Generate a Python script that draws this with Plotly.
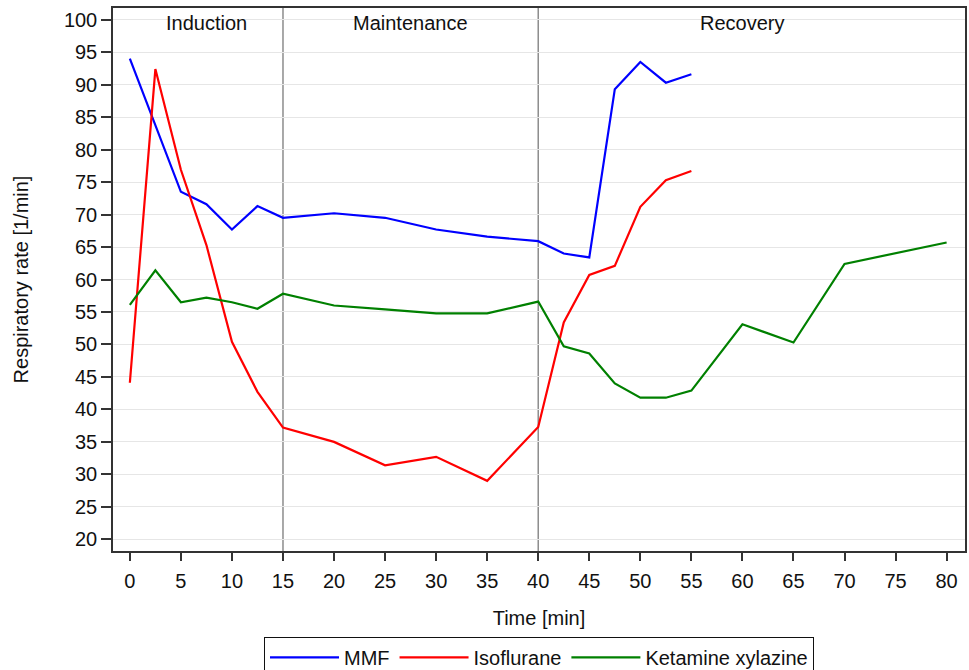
import plotly.graph_objects as go

# Data
mmf_t = [0, 2.5, 5, 7.5, 10, 12.5, 15, 20, 25, 30, 35, 40, 42.5, 45, 47.5, 50, 52.5, 55]
mmf_v = [94.0, 83.8, 73.5, 71.6, 67.7, 71.3, 69.5, 70.2, 69.5, 67.7, 66.6, 65.9, 64.0, 63.4, 89.3, 93.5, 90.3, 91.6]

iso_t = [0, 2.5, 5, 7.5, 10, 12.5, 15, 20, 25, 30, 35, 40, 42.5, 45, 47.5, 50, 52.5, 55]
iso_v = [44.1, 92.4, 76.9, 65.3, 50.4, 42.7, 37.2, 35.0, 31.4, 32.7, 29.0, 37.3, 53.4, 60.7, 62.1, 71.2, 75.3, 76.7]

ket_t = [0, 2.5, 5, 7.5, 10, 12.5, 15, 20, 25, 30, 35, 40, 42.5, 45, 47.5, 50, 52.5, 55, 60, 65, 70, 80]
ket_v = [56.1, 61.4, 56.5, 57.2, 56.5, 55.5, 57.8, 56.0, 55.4, 54.8, 54.8, 56.6, 49.7, 48.6, 44.0, 41.8, 41.8, 42.9, 53.1, 50.3, 62.4, 65.7]

phase_names = ["Induction", "Maintenance", "Recovery"]
phase_centers = [7.5, 27.5, 60]
phase_bounds = [15, 40]

x_ticks = list(range(0, 81, 5))
y_ticks = list(range(20, 101, 5))

FONT = "Liberation Sans, Arial, sans-serif"

fig = go.Figure()
fig.add_trace(go.Scatter(x=mmf_t, y=mmf_v, mode="lines", name="MMF",
                         line=dict(color="#0000ff", width=2.2)))
fig.add_trace(go.Scatter(x=iso_t, y=iso_v, mode="lines", name="Isoflurane",
                         line=dict(color="#ff0000", width=2.2)))
fig.add_trace(go.Scatter(x=ket_t, y=ket_v, mode="lines", name="Ketamine xylazine",
                         line=dict(color="#008000", width=2.2)))

for b in phase_bounds:
    fig.add_shape(type="line", x0=b, x1=b, y0=0, y1=1, xref="x", yref="paper",
                  line=dict(color="#8c8c8c", width=1.5), layer="below")

for name, c in zip(phase_names, phase_centers):
    fig.add_annotation(x=c, y=0.973, xref="x", yref="paper", text=name,
                       showarrow=False, yanchor="middle",
                       font=dict(size=20, color="#111", family=FONT))

fig.update_layout(
    width=969, height=670,
    margin=dict(l=113, r=4, t=8, b=119, autoexpand=False),
    paper_bgcolor="white", plot_bgcolor="white",
    font=dict(family=FONT, size=20, color="#111"),
    showlegend=True,
    legend=dict(orientation="h", x=0.5, xanchor="center", y=-0.158, yanchor="top",
                bordercolor="#111", borderwidth=1, font=dict(size=20, color="#111"),
                itemwidth=69),
    xaxis=dict(range=[-1.65, 81.8], tickvals=x_ticks, ticks="outside", ticklen=8,
               tickwidth=1.5, tickcolor="#333", showgrid=False, zeroline=False,
               showline=True, linecolor="#333", linewidth=1.5, mirror=True,
               tickfont=dict(size=20), ticklabelstandoff=3,
               title=dict(text="Time [min]", standoff=20, font=dict(size=20))),
    yaxis=dict(range=[18.2, 101.8], tickvals=y_ticks, ticks="outside", ticklen=10,
               tickwidth=1.5, tickcolor="#333", showgrid=True, gridcolor="#e6e6e6",
               gridwidth=1, zeroline=False, showline=True, linecolor="#333",
               linewidth=1.5, mirror=True, tickfont=dict(size=20),
               title=dict(text="Respiratory rate [1/min]", standoff=30, font=dict(size=20))),
)

fig.write_html("out.html")
